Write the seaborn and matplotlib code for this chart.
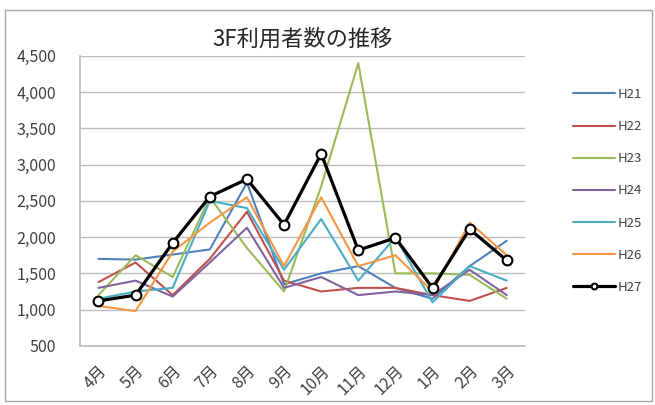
import matplotlib
matplotlib.use("Agg")
import matplotlib.pyplot as plt
import pandas as pd
import seaborn as sns
from matplotlib.patches import Rectangle
from matplotlib.ticker import FuncFormatter

months = ["4月", "5月", "6月", "7月", "8月", "9月", "10月", "11月", "12月", "1月", "2月", "3月"]
h21 = [1700, 1690, 1760, 1830, 2750, 1350, 1500, 1600, 1300, 1150, 1600, 1950]
h22 = [1380, 1650, 1200, 1700, 2350, 1400, 1250, 1300, 1300, 1200, 1120, 1300]
h23 = [1200, 1750, 1450, 2550, 1850, 1250, 2700, 4400, 1500, 1500, 1480, 1150]
h24 = [1300, 1400, 1180, 1650, 2130, 1300, 1450, 1200, 1250, 1200, 1550, 1200]
h25 = [1150, 1250, 1300, 2500, 2400, 1550, 2250, 1400, 2000, 1100, 1600, 1400]
h26 = [1050, 980, 1800, 2200, 2550, 1600, 2550, 1600, 1750, 1250, 2200, 1750]
h27 = [1120, 1200, 1920, 2560, 2800, 2170, 3150, 1820, 1990, 1300, 2110, 1680]
series = {"H21": h21, "H22": h22, "H23": h23, "H24": h24, "H25": h25, "H26": h26, "H27": h27}
colors = {"H21": "#4F81BD", "H22": "#C0504D", "H23": "#9BBB59", "H24": "#8064A2",
          "H25": "#4BACC6", "H26": "#F79646", "H27": "#000000"}

sns.set_theme(style="white")
plt.rcParams["font.family"] = ["Noto Sans CJK JP", "DejaVu Sans"]

df = pd.DataFrame([(k, m, v) for k, vals in series.items() for m, v in zip(months, vals)],
                  columns=["year", "month", "value"])

fig = plt.figure(figsize=(6.55, 4.05), dpi=100)
ax = fig.add_axes([0.122, 0.146, 0.680, 0.716])
fig.patches.append(Rectangle((0.008, 0.01), 0.987, 0.965, transform=fig.transFigure,
                             fill=False, edgecolor="#A6A6A6", linewidth=1))

for name in series:
    sub = df[df["year"] == name]
    if name == "H27":
        sns.lineplot(data=sub, x="month", y="value", ax=ax, color="black", linewidth=2.3,
                     marker="o", markersize=7, markerfacecolor="white", markeredgecolor="black",
                     markeredgewidth=1.5, label=name, sort=False)
    else:
        sns.lineplot(data=sub, x="month", y="value", ax=ax, color=colors[name], linewidth=1.5,
                     label=name, sort=False)

ax.set_ylim(500, 4500)
ax.set_xlim(-0.5, 11.5)
ax.set_yticks(range(500, 4501, 500))
ax.yaxis.set_major_formatter(FuncFormatter(lambda v, p: f"{int(v):,}"))
ax.grid(axis="y", color="#BDBDBD", linewidth=1)
ax.set_axisbelow(True)
for s in ["top", "right"]:
    ax.spines[s].set_visible(False)
ax.spines["left"].set_color("#BDBDBD")
ax.spines["bottom"].set_color("#BDBDBD")
ax.tick_params(axis="y", labelsize=11.5, colors="#404040", pad=17, length=0)
ax.tick_params(axis="x", labelsize=11.5, colors="#404040", length=0, pad=12)
for lab in ax.get_xticklabels():
    lab.set_rotation(45)
    lab.set_horizontalalignment("right")
    lab.set_rotation_mode("anchor")
ax.set_xlabel("")
ax.set_ylabel("")
ax.set_title("3F利用者数の推移", fontsize=16, color="#262626", pad=7)

ax.legend(loc="upper left", bbox_to_anchor=(1.08, 0.93), frameon=False, fontsize=9.5,
          labelspacing=1.45, handlelength=3.2, handletextpad=0.2, labelcolor="#404040",
          markerscale=0.6)

fig.savefig("out.png", dpi=100)
